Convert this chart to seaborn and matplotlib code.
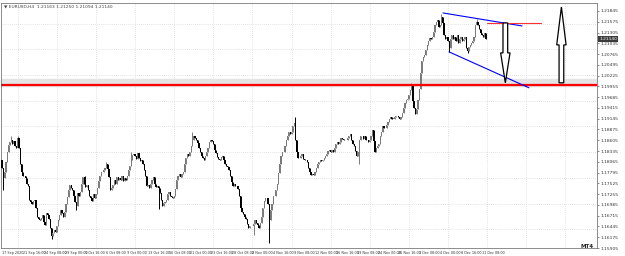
import numpy as np
import pandas as pd
import matplotlib
matplotlib.use("Agg")
import matplotlib.pyplot as plt
import seaborn as sns
from matplotlib.patches import Polygon

sns.set_style("white")
plt.rcParams['font.family'] = ['DejaVu Sans']

# ---- data (EURUSD H4, closes in pips above 1.1000, 6 bars per day) ----
symbol = "EURUSD,H4"
header_ohlc = "1.21163 1.21250 1.21094 1.21140"
first_open = 1.1810
close_pips = [
    790, 765, 780, 805, 830, 848,      # 17 Sep
    855, 862, 850, 858, 845, 840,
    865, 840, 800, 780, 772, 770,      # 21 Sep
    765, 752, 745, 712, 705, 700,
    708, 712, 690, 668, 662, 660,
    665, 672, 655, 648, 678, 672,
    662, 640, 620, 628, 636, 630,
    645, 660, 672, 685, 678, 667,      # 28 Sep
    680, 700, 718, 735, 748, 742,
    735, 722, 705, 695, 728, 720,
    732, 752, 768, 750, 744, 748,
    735, 722, 715, 708, 726, 716,
    725, 742, 758, 772, 780, 782,      # 5 Oct
    786, 792, 802, 788, 768, 735,
    742, 748, 762, 752, 768, 760,
    766, 762, 772, 758, 766, 760,
    772, 786, 796, 810, 824, 826,
    820, 814, 828, 815, 808, 812,      # 12 Oct
    800, 786, 770, 745, 748, 742,
    750, 762, 768, 750, 744, 746,
    740, 728, 710, 695, 704, 705,
    712, 726, 732, 720, 718, 717,
    722, 738, 762, 772, 776, 768,      # 19 Oct
    776, 782, 800, 816, 826, 820,
    832, 846, 862, 872, 866, 860,
    854, 840, 830, 822, 815, 812,
    820, 832, 842, 855, 862, 858,
    850, 836, 828, 818, 814, 812,      # 26 Oct
    818, 822, 810, 800, 796, 794,
    786, 770, 755, 745, 752, 746,
    745, 738, 722, 690, 680, 675,
    668, 664, 650, 640, 646, 646,
    645, 650, 660, 654, 648, 641,      # 2 Nov
    652, 668, 690, 708, 715, 715,
    700, 660, 685, 702, 722, 720,
    735, 752, 778, 800, 820, 830,
    832, 846, 860, 872, 882, 875,
    880, 895, 905, 860, 830, 815,      # 9 Nov
    815, 822, 826, 814, 810, 810,
    805, 792, 780, 774, 776, 774,
    780, 790, 800, 806, 810, 808,
    810, 815, 820, 826, 833, 835,
    830, 836, 830, 842, 850, 855,      # 16 Nov
    850, 856, 866, 864, 862, 860,
    860, 866, 872, 876, 860, 850,
    845, 834, 820, 832, 860, 870,
    870, 864, 872, 860, 860, 857,
    860, 872, 885, 858, 830, 840,      # 23 Nov
    845, 852, 870, 882, 895, 890,
    890, 900, 906, 915, 920, 915,
    915, 918, 921, 922, 918, 915,
    920, 930, 942, 955, 962, 965,
    975, 986, 998, 960, 942, 926,      # 30 Nov
    940, 962, 990, 1030, 1060, 1070,
    1075, 1086, 1100, 1110, 1116, 1115,
    1120, 1132, 1150, 1156, 1162, 1145,
    1150, 1170, 1155, 1125, 1115, 1120,
    1110, 1092, 1115, 1125, 1115, 1120,  # 7 Dec
    1110, 1125, 1105, 1115, 1120, 1110,
    1115, 1120, 1092, 1085, 1095, 1100,
    1105, 1110, 1120, 1150, 1158, 1150,
    1140, 1130, 1125, 1120, 1130, 1114,
]
# long wicks (bar index -> price)
wick_highs = {7: 1.1872, 12: 1.1872, 57: 1.1687, 64: 1.1771, 80: 1.1806,
              99: 1.1830, 146: 1.1880, 225: 1.1920, 314: 1.2004,
              337: 1.2177, 364: 1.2165}
wick_lows = {1: 1.1737, 38: 1.1612, 57: 1.1685, 120: 1.1689, 193: 1.1622,
             205: 1.1603, 274: 1.1800, 343: 1.2082, 357: 1.2078}

# chart objects drawn on the chart (bar index, price)
support_level = 1.1998
support_zone = (1.19955, 1.2014)
upper_trend = ([338.2, 398.8], [1.21795, 1.21470])
lower_trend = ([342.8, 404.1], [1.20820, 1.19920])
top_line = ([371.9, 413.0], [1.21545, 1.21545])
down_arrow = (386.0, 1.21545, 1.20045)   # x, from, to
up_arrow = (429.0, 1.20045, 1.21945)

price_ticks = [round(1.21845 - 0.0027 * k, 5) for k in range(23)]
grid_prices = [1.21530, 1.20885, 1.20240, 1.19595, 1.18950, 1.18305,
               1.17660, 1.17015, 1.16370]

# ---- frame ----
days = pd.bdate_range("2020-09-17", "2020-12-11")
times = [d + pd.Timedelta(hours=4 * h) for d in days for h in range(6)]
df = pd.DataFrame({"time": times, "close": 1.1 + np.array(close_pips) / 1e4})
df["open"] = df["close"].shift(1).fillna(first_open)
df["high"] = df[["open", "close"]].max(axis=1)
df["low"] = df[["open", "close"]].min(axis=1)
for i, v in wick_highs.items():
    df.loc[i, "high"] = max(df.loc[i, "high"], v)
for i, v in wick_lows.items():
    df.loc[i, "low"] = min(df.loc[i, "low"], v)
df["bar"] = np.arange(len(df))
df["up"] = df["close"] >= df["open"]

W, H = 625, 256
fig = plt.figure(figsize=(W / 100, H / 100), dpi=100)
ax = fig.add_axes([1 / W, 1 - 248 / H, 596 / W, 245 / H])
ax.set_facecolor("white")

ax.set_xlim(-0.8, 456.3)
ax.set_ylim(1.21845 - 237 * 0.00025, 1.21845 + 8 * 0.00025)

grid_kw = dict(color="#c9c9c9", lw=0.5, ls=(0, (1, 2)), zorder=0)
for b in range(12, 460, 30):
    ax.axvline(b, **grid_kw)
for p in grid_prices:
    ax.axhline(p, **grid_kw)

ax.axhspan(*support_zone, color="#e4e4e4", zorder=1)

colors = np.where(df["up"], "#7a7a7a", "#000000")
ax.vlines(df["bar"], df["low"], df["high"], colors=colors, lw=0.7, zorder=3)
body = (df["close"] - df["open"]).where(lambda s: s.abs() > 2e-5, 2e-5)
ax.bar(df["bar"], body, bottom=df["open"], width=0.9, color=colors, lw=0,
       zorder=3)

ax.axhline(support_level, color="#ff0000", lw=1.6, zorder=4)
ax.plot(*upper_trend, color="#0000ff", lw=0.8, zorder=5)
ax.plot(*lower_trend, color="#0000ff", lw=0.8, zorder=5)
ax.plot(*top_line, color="#ff3030", lw=0.8, zorder=5)


def arrow(x, y0, y1, shaft=1.8, head=3.6, head_frac=0.5):
    yh = y1 + (y0 - y1) * head_frac
    pts = [(x - shaft, y0), (x + shaft, y0), (x + shaft, yh), (x + head, yh),
           (x, y1), (x - head, yh), (x - shaft, yh)]
    ax.add_patch(Polygon(pts, closed=True, facecolor="white", edgecolor="black",
                         lw=0.9, zorder=6))


arrow(*down_arrow)
arrow(*up_arrow)

# axes / ticks
for s in ax.spines.values():
    s.set_color("#7a7a7a")
    s.set_linewidth(0.6)
ax.yaxis.tick_right()
ax.set_yticks(price_ticks)
ax.set_yticklabels([f"{p:.5f}" for p in price_ticks])
xt = df["bar"].iloc[::16]
labels = [df["time"].iloc[0].strftime("%-d %b %Y")] + \
         [t.strftime("%-d %b %H:%M") for t in df["time"].iloc[16::16]]
ax.set_xticks(xt)
ax.set_xticklabels(labels, ha="left", fontsize=2.4)
ax.tick_params(axis="y", labelsize=3.2, colors="#333333", length=1.5,
               width=0.4, pad=1)
ax.tick_params(axis="x", colors="#333333", length=1.5, width=0.4, pad=1)

last = df["close"].iloc[-1]
ax.annotate(f"{last:.5f}", xy=(1.0, last), xycoords=("axes fraction", "data"),
            xytext=(1.5, 0), textcoords="offset points", va="center",
            fontsize=3.2, color="white",
            bbox=dict(boxstyle="square,pad=0.25", fc="#3c3c3c", ec="none"))

fig.text(4 / W, 1 - 6 / H, "\u25bc " + symbol + "  " + header_ohlc,
         fontsize=3.2, color="#444444", va="center")
fig.text(594 / W, 1 - 249 / H, "MT4", fontsize=4, fontweight="bold",
         color="#222222", ha="right", va="bottom")

fig.savefig("out.png", dpi=100)
